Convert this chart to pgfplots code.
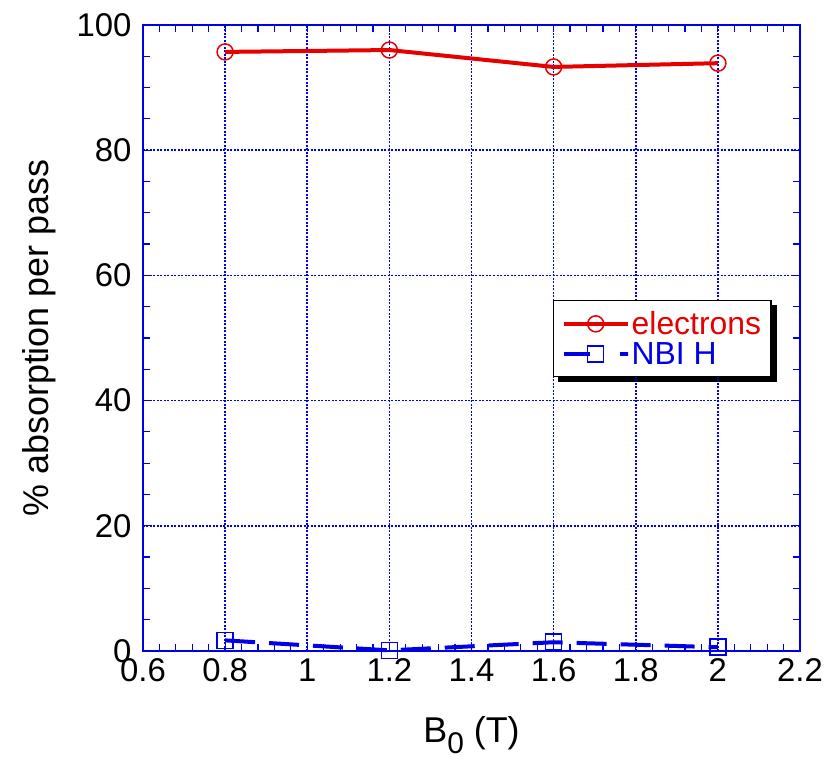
\documentclass[border=0pt]{standalone}
\usepackage{pgfplots}
\pgfplotsset{compat=1.18}
\usepackage{fontspec}
\setmainfont{Liberation Sans}
\usetikzlibrary{backgrounds}
\definecolor{myblue}{RGB}{0,0,230}
\definecolor{myred}{RGB}{230,0,0}
\pgfplotsset{
  nbileg/.style={legend image code/.code={%
    \draw[mark repeat=2,mark phase=2,##1, dash pattern=on 26bp off 30bp on 8bp off 0bp] plot coordinates {(0bp,0bp)(32bp,0bp)(64bp,0bp)};}},
}
\begin{document}
\begin{tikzpicture}
\useasboundingbox (-143bp,-116bp) rectangle (688bp,651bp);
\begin{axis}[
  at={(0,0)}, anchor=south west,
  scale only axis, width=657bp, height=626bp,
  xmin=0.6, xmax=2.2, ymin=0, ymax=100,
  xtick={0.6,0.8,...,2.21}, ytick={0,20,...,100},
  xticklabels={0.6,0.8,1,1.2,1.4,1.6,1.8,2,2.2},
  minor x tick num=4, minor y tick num=3,
  tick align=inside,
  major tick length=7bp, minor tick length=7bp,
  every tick/.style={myblue, line width=1.2bp},
  axis line style={myblue, line width=2bp},
  grid=major,
  grid style={myblue, line width=1.5bp, dash pattern=on 2bp off 1.5bp},
  major grid style={myblue, line width=1.5bp, dash pattern=on 2bp off 1.5bp},
  /pgf/number format/assume math mode=true,
  tick label style={font=\fontsize{33}{38}\selectfont, black},
  xticklabel style={yshift=-4bp},
  yticklabel style={xshift=-8bp},
  xlabel={B\raisebox{-0.3em}{\fontsize{30}{30}\selectfont 0} (T)},
  ylabel={\% absorption per pass},
  label style={font=\fontsize{36}{42}\selectfont},
  xlabel style={yshift=-28bp},
  ylabel style={yshift=14bp},
  clip=false,
  legend style={at={(0.624,0.561)}, anchor=north west, name=leg,
    draw=black, line width=1.5bp, fill=white,
    font=\fontsize{32}{36}\selectfont,
    inner xsep=8bp, inner ysep=9bp,
    row sep=2bp},
  legend cell align=left,
  legend image code/.code={%
    \draw[mark repeat=2,mark phase=2,#1] plot coordinates {(0bp,0bp)(32bp,0bp)(64bp,0bp)};},
]
\addplot[myred, line width=4bp, mark=o, mark size=8bp, mark options={line width=1.5bp, solid}]
  coordinates {(0.8,95.7)(1.2,96.0)(1.6,93.3)(2.0,93.9)};
\addlegendentry{\textcolor{myred}{electrons}}
\addplot[myblue, line width=4bp, dash pattern=on 30bp off 14bp, mark=square, mark size=8bp, mark options={line width=1.5bp, solid}, nbileg]
  coordinates {(0.8,1.7)(1.2,0.1)(1.6,1.4)(2.0,0.6)};
\addlegendentry{\textcolor{myblue}{NBI H}}
\end{axis}
\begin{scope}[on background layer]
  \fill[black] ([shift={(5bp,-5bp)}]leg.south west) rectangle ([shift={(5bp,-5bp)}]leg.north east);
\end{scope}
\end{tikzpicture}
\end{document}
